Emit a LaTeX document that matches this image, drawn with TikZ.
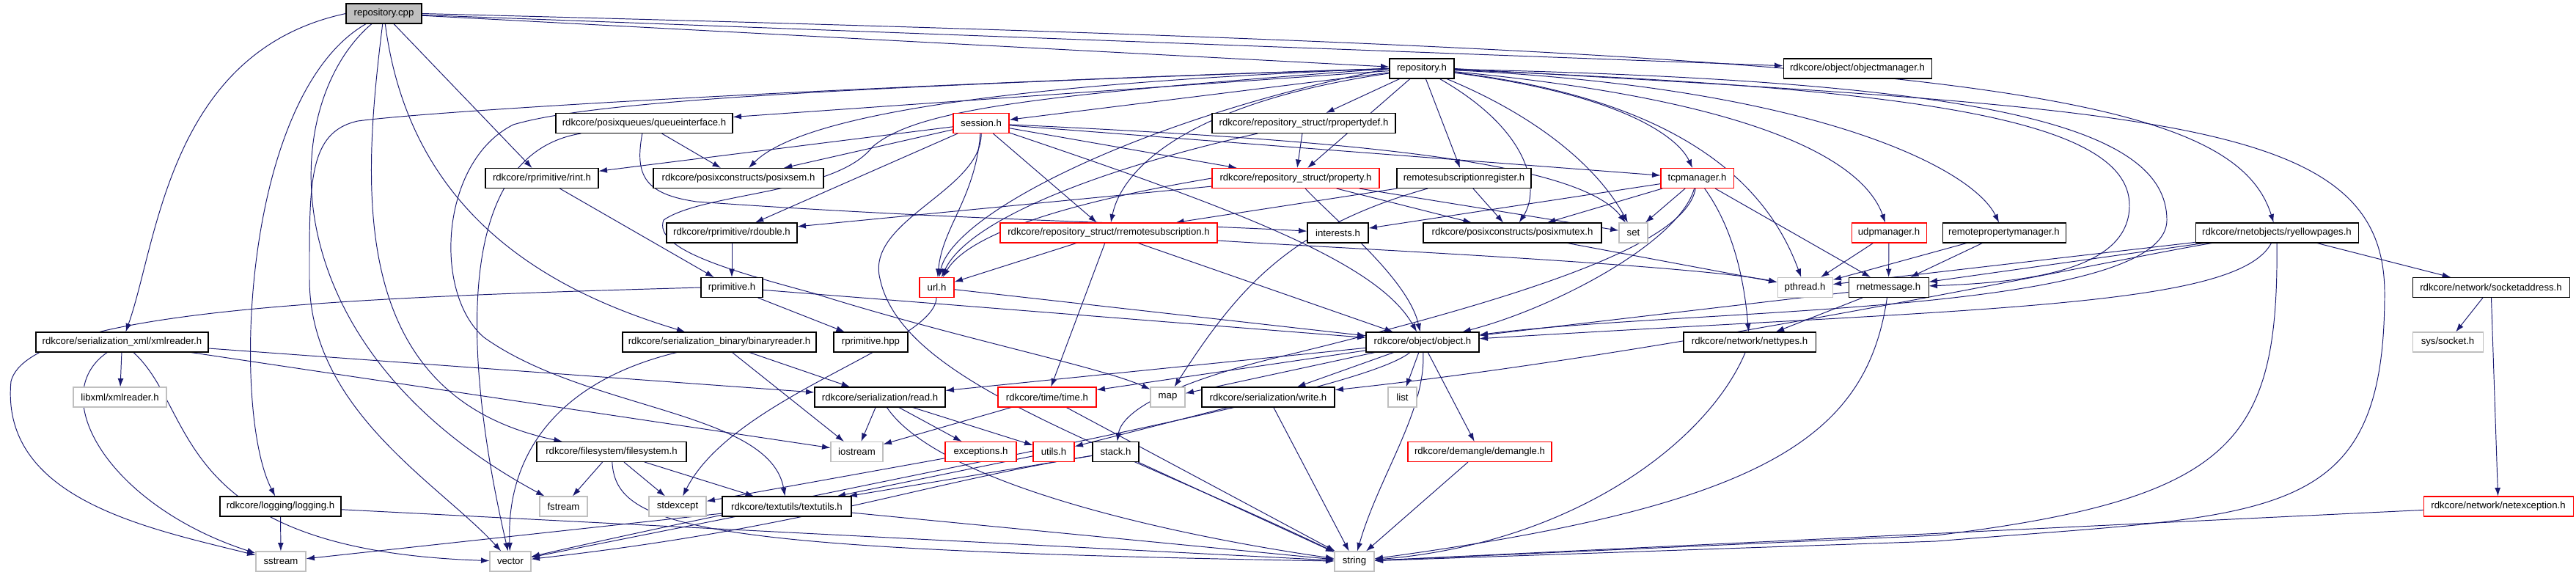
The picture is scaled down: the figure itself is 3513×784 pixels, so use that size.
\documentclass[tikz,border=0pt]{standalone}
\usepackage{fontspec}
\setmainfont{Liberation Sans}
\usepackage{tikz}
\usetikzlibrary{arrows.meta, positioning, backgrounds}

\definecolor{edgeblue}{HTML}{191970}
\definecolor{extgray}{HTML}{BFBFBF}

\begin{document}
\begin{tikzpicture}[x=0.02cm, y=-0.02cm,
    font=\fontsize{7.5}{9}\selectfont,
    block/.style={rectangle, draw=black, fill=white, line width=0.6pt, inner sep=0pt, minimum height=0.54cm},
    redblock/.style={block, draw=red},
    extblock/.style={block, draw=extgray},
    rootblock/.style={block, fill=extgray},
    wd/.style={minimum width=#1*0.02cm},
    line/.style={draw=edgeblue, line width=0.55pt, -{Latex[length=6.5pt, width=4.5pt]}}]

    \useasboundingbox (0,0) rectangle (3513,784);

    % row 0 and 1
    \node [rootblock, wd=103] (repocpp) at (523.5,18.5) {repository.cpp};
    \node [block, wd=88] (repoh) at (1939,93.5) {repository.h};
    \node [block, wd=202] (objmgr) at (2533,93.5) {rdkcore/object/objectmanager.h};

    % row 2
    \node [block, wd=241] (queueif) at (878.5,168) {rdkcore/posixqueues/queueinterface.h};
    \node [redblock, wd=76] (session) at (1338,168) {session.h};
    \node [block, wd=250] (propdef) at (1778,168) {rdkcore/repository\_struct/rpropertydef.h};

    % row 3
    \node [block, wd=154] (rint) at (739,243) {rdkcore/rprimitive/rint.h};
    \node [block, wd=232] (posixsem) at (1007,243) {rdkcore/posixconstructs/posixsem.h};
    \node [redblock, wd=228] (property) at (1767,243) {rdkcore/repository\_struct/property.h};
    \node [block, wd=183] (subreg) at (1996.5,243) {remotesubscriptionregister.h};
    \node [redblock, wd=99] (tcpmgr) at (2314.5,243) {tcpmanager.h};

    % row 4
    \node [block, wd=178] (rdouble) at (998,317.5) {rdkcore/rprimitive/rdouble.h};
    \node [redblock, wd=296] (remsub) at (1512,317.5) {rdkcore/repository\_struct/rremotesubscription.h};
    \node [block, wd=83] (interests) at (1824.5,317.5) {interests.h};
    \node [block, wd=243] (posixmutex) at (2062.5,317.5) {rdkcore/posixconstructs/posixmutex.h};
    \node [extblock, wd=39] (set) at (2227.5,317.5) {set};
    \node [redblock, wd=102] (udpmgr) at (2576,317.5) {udpmanager.h};
    \node [block, wd=168] (rpropmgr) at (2733,317.5) {remotepropertymanager.h};
    \node [block, wd=222] (yellow) at (3105,317.5) {rdkcore/rnetobjects/ryellowpages.h};

    % row 5
    \node [block, wd=84] (rprim) at (998,392) {rprimitive.h};
    \node [redblock, wd=47] (url) at (1277.5,392) {url.h};
    \node [extblock, wd=75] (pthread) at (2461.5,392) {pthread.h};
    \node [block, wd=109] (netmsg) at (2575.5,392) {rnetmessage.h};
    \node [block, wd=214] (sockaddr) at (3397,392) {rdkcore/network/socketaddress.h};

    % row 6
    \node [block, wd=235] (xmlreader) at (166.5,466.5) {rdkcore/serialization\_xml/xmlreader.h};
    \node [block, wd=264] (binreader) at (981,466.5) {rdkcore/serialization\_binary/binaryreader.h};
    \node [block, wd=101] (rprimhpp) at (1187.5,466.5) {rprimitive.hpp};
    \node [block, wd=154] (object) at (1940,466.5) {rdkcore/object/object.h};
    \node [block, wd=180] (nettypes) at (2386,466.5) {rdkcore/network/nettypes.h};
    \node [extblock, wd=96] (socket) at (3338,466.5) {sys/socket.h};

    % row 7
    \node [extblock, wd=127] (libxml) at (163.5,541.5) {libxml/xmlreader.h};
    \node [block, wd=178] (read) at (1200,541.5) {rdkcore/serialization/read.h};
    \node [redblock, wd=134] (time) at (1428,541.5) {rdkcore/time/time.h};
    \node [extblock, wd=47] (map) at (1592.5,541.5) {map};
    \node [block, wd=181] (write) at (1729.5,541.5) {rdkcore/serialization/write.h};
    \node [extblock, wd=39] (list) at (1912.5,541.5) {list};

    % row 8
    \node [block, wd=204] (filesystem) at (834,616) {rdkcore/filesystem/filesystem.h};
    \node [extblock, wd=71] (iostream) at (1168.5,616) {iostream};
    \node [redblock, wd=97] (exceptions) at (1337.5,616) {exceptions.h};
    \node [redblock, wd=56] (utils) at (1437,616) {utils.h};
    \node [block, wd=63] (stack) at (1521.5,616) {stack.h};
    \node [redblock, wd=196] (demangle) at (2018,616) {rdkcore/demangle/demangle.h};

    % row 9
    \node [block, wd=165] (logging) at (382.5,690.5) {rdkcore/logging/logging.h};
    \node [extblock, wd=65] (fstream) at (768.5,690.5) {fstream};
    \node [extblock, wd=78] (stdexcept) at (924,690.5) {stdexcept};
    \node [block, wd=176] (textutils) at (1073,690.5) {rdkcore/textutils/textutils.h};
    \node [redblock, wd=204] (netexc) at (3407,690.5) {rdkcore/network/netexception.h};

    % row 10
    \node [extblock, wd=68] (sstream) at (383,765.5) {sstream};
    \node [extblock, wd=56] (vector) at (696,765.5) {vector};
    \node [extblock, wd=54] (string) at (1847,765.5) {string};

    \begin{scope}[on background layer]
    \fill [white] (0,0) rectangle (3513,784);

    % repository.cpp
    \path [line] (repocpp) -- (repoh);
    \path [line] (repocpp) -- (objmgr);
    \path [line] (repocpp.east) .. controls (2600,70) and (3040,110) .. (yellow);
    \path [line] (repocpp) -- (rint);
    \path [line] (repocpp.west) .. controls (230,70) and (215,330) .. (xmlreader);
    \path [line] (repocpp) .. controls (330,130) and (315,560) .. (logging);
    \path [line] (repocpp) .. controls (380,140) and (360,470) .. (fstream);
    \path [line] (repocpp) .. controls (495,250) and (470,540) .. (filesystem);
    \path [line] (repocpp) .. controls (560,300) and (760,400) .. (binreader);

    % repository.h
    \path [line] (repoh) -- (queueif);
    \path [line] (repoh) -- (session);
    \path [line] (repoh) -- (propdef);
    \path [line] (repoh.west) .. controls (1350,115) and (1090,160) .. (posixsem);
    \path [line] (repoh) -- (property);
    \path [line] (repoh) -- (subreg);
    \path [line] (repoh) .. controls (2090,180) and (2100,260) .. (posixmutex);
    \path [line] (repoh) .. controls (2100,160) and (2180,230) .. (set);
    \path [line] (repoh) .. controls (2220,130) and (2290,190) .. (tcpmgr);
    \path [line] (repoh) .. controls (2330,140) and (2420,280) .. (pthread);
    \path [line] (repoh) .. controls (2430,140) and (2545,230) .. (udpmgr);
    \path [line] (repoh) .. controls (2480,120) and (2690,230) .. (rpropmgr);
    \path [line] (repoh) .. controls (2600,120) and (2904,160) .. (2904,280) .. controls (2904,370) and (2760,385) .. (netmsg);
    \path [line] (repoh) .. controls (2700,110) and (2955,170) .. (2955,300) .. controls (2955,430) and (2300,420) .. (object);
    \path [line] (repoh.east) .. controls (2950,150) and (3252,160) .. (3252,400) .. controls (3252,720) and (3100,700) .. (2640,738) -- (string);
    \path [line] (repoh) .. controls (1620,140) and (1530,230) .. (remsub);
    \path [line] (repoh.west) .. controls (1560,160) and (1300,290) .. (url);
    \path [line] (repoh.west) .. controls (1200,115) and (600,150) .. (488,165) .. controls (420,180) and (422,250) .. (422,380) .. controls (422,560) and (600,660) .. (vector);
    \path [line] (repoh.west) .. controls (1100,120) and (800,140) .. (700,170) .. controls (600,220) and (590,400) .. (660,460) .. controls (800,560) and (1050,560) .. (textutils);
    \path [line] (repoh.west) .. controls (1400,130) and (1250,150) .. (1190,200) .. controls (1140,265) and (960,262) .. (905,300) .. controls (890,340) and (1000,370) .. (1110,400) .. controls (1300,460) and (1500,500) .. (map);

    % session.h
    \path [line] (session) -- (rint);
    \path [line] (session) -- (posixsem);
    \path [line] (session) -- (property);
    \path [line] (session) -- (tcpmgr);
    \path [line] (session) .. controls (1800,190) and (2150,215) .. (set);
    \path [line] (session) -- (rdouble);
    \path [line] (session) -- (remsub);
    \path [line] (session) .. controls (1330,270) and (1285,310) .. (url);
    \path [line] (session) .. controls (1700,290) and (1880,360) .. (object);
    \path [line] (session) .. controls (1339,260) and (1180,300) .. (1200,380) .. controls (1230,520) and (1500,600) .. (string);

    % property.h, rpropertydef.h, remotesubscriptionregister.h
    \path [line] (property) -- (rdouble);
    \path [line] (property.west) .. controls (1450,277) and (1320,320) .. (url);
    \path [line] (property) -- (posixmutex);
    \path [line] (property) -- (set);
    \path [line] (property) .. controls (1820,300) and (1920,380) .. (object);
    \path [line] (propdef) -- (property);
    \path [line] (propdef) .. controls (1500,230) and (1320,300) .. (url);
    \path [line] (subreg) -- (remsub);
    \path [line] (subreg) -- (posixmutex);
    \path [line] (subreg) .. controls (1760,310) and (1690,390) .. (map);

    % tcpmanager.h
    \path [line] (tcpmgr) -- (interests);
    \path [line] (tcpmgr) -- (posixmutex);
    \path [line] (tcpmgr) -- (set);
    \path [line] (tcpmgr) .. controls (2290,330) and (2120,420) .. (object);
    \path [line] (tcpmgr) .. controls (2370,320) and (2380,400) .. (nettypes);
    \path [line] (tcpmgr) -- (netmsg);
    \path [line] (tcpmgr) .. controls (2300,330) and (2100,400) .. (1760,483) .. controls (1600,520) and (1530,560) .. (stack);

    % managers, mutex
    \path [line] (udpmgr) -- (pthread);
    \path [line] (udpmgr) -- (netmsg);
    \path [line] (rpropmgr) -- (pthread);
    \path [line] (rpropmgr) -- (netmsg);
    \path [line] (posixmutex) -- (pthread);

    % ryellowpages.h
    \path [line] (yellow) -- (pthread);
    \path [line] (yellow) -- (netmsg);
    \path [line] (yellow) .. controls (3050,420) and (2700,420) .. (object);
    \path [line] (yellow) .. controls (2900,350) and (2300,480) .. (write);
    \path [line] (yellow) .. controls (3107,600) and (3050,680) .. (2640,730) -- (string);
    \path [line] (yellow) -- (sockaddr);
    \path [line] (sockaddr) -- (socket);
    \path [line] (sockaddr) -- (netexc);
    \path [line] (netexc) -- (string);

    % rnetmessage.h, nettypes.h
    \path [line] (netmsg) -- (nettypes);
    \path [line] (netmsg) -- (object);
    \path [line] (netmsg) .. controls (2545,600) and (2400,690) .. (string);
    \path [line] (nettypes) .. controls (2330,600) and (2150,740) .. (string);

    % rremotesubscription.h, url.h
    \path [line] (remsub) -- (url);
    \path [line] (remsub) -- (object);
    \path [line] (remsub) -- (time);
    \path [line] (remsub) .. controls (1760,335) and (2300,360) .. (pthread);
    \path [line] (url) .. controls (1275,470) and (1000,540) .. (stdexcept);
    \path [line] (url) -- (object);

    % rprimitive
    \path [line] (rint) -- (rprim);
    \path [line] (rdouble) -- (rprim);
    \path [line] (rprim) -- (rprimhpp);
    \path [line] (rprim.west) .. controls (500,405) and (40,420) .. (15,520) .. controls (0,680) and (200,720) .. (sstream);
    \path [line] (rprim) -- (object);

    % queueinterface.h
    \path [line] (queueif) -- (posixsem);
    \path [line] (queueif) .. controls (620,210) and (630,480) .. (vector);
    \path [line] (queueif) .. controls (865,240) and (880,265) .. (950,275) .. controls (1300,300) and (1600,305) .. (interests);

    % readers
    \path [line] (binreader) -- (read);
    \path [line] (binreader) -- (iostream);
    \path [line] (binreader) .. controls (760,520) and (690,620) .. (vector);
    \path [line] (xmlreader) -- (libxml);
    \path [line] (xmlreader) .. controls (60,540) and (150,690) .. (sstream);
    \path [line] (xmlreader) .. controls (270,560) and (230,750) .. (vector);
    \path [line] (xmlreader) -- (read);
    \path [line] (xmlreader) -- (iostream);
    \path [line] (read) -- (iostream);
    \path [line] (read) -- (exceptions);
    \path [line] (read) -- (utils);
    \path [line] (read) .. controls (1280,660) and (1600,730) .. (string);
    \path [line] (time) -- (iostream);
    \path [line] (time) -- (string);
    \path [line] (write) -- (utils);
    \path [line] (write) -- (string);

    % object.h
    \path [line] (object) -- (read);
    \path [line] (object) -- (time);
    \path [line] (object) -- (map);
    \path [line] (object) -- (write);
    \path [line] (object) -- (list);
    \path [line] (object) -- (demangle);
    \path [line] (object) .. controls (1945,560) and (1880,650) .. (string);
    \path [line] (object) .. controls (1850,540) and (1200,650) .. (vector);
    \path [line] (demangle) -- (string);

    % lower rows
    \path [line] (exceptions) -- (stdexcept);
    \path [line] (utils) -- (textutils);
    \path [line] (stack) -- (textutils);
    \path [line] (stack) .. controls (1250,660) and (1100,720) .. (vector);
    \path [line] (stack) -- (string);
    \path [line] (textutils) -- (sstream);
    \path [line] (textutils) -- (vector);
    \path [line] (textutils) -- (string);
    \path [line] (filesystem) -- (fstream);
    \path [line] (filesystem) -- (stdexcept);
    \path [line] (filesystem) -- (textutils);
    \path [line] (filesystem) .. controls (840,720) and (950,750) .. (string);
    \path [line] (logging) -- (sstream);
    \path [line] (logging) -- (string);
    \end{scope}
\end{tikzpicture}
\end{document}
